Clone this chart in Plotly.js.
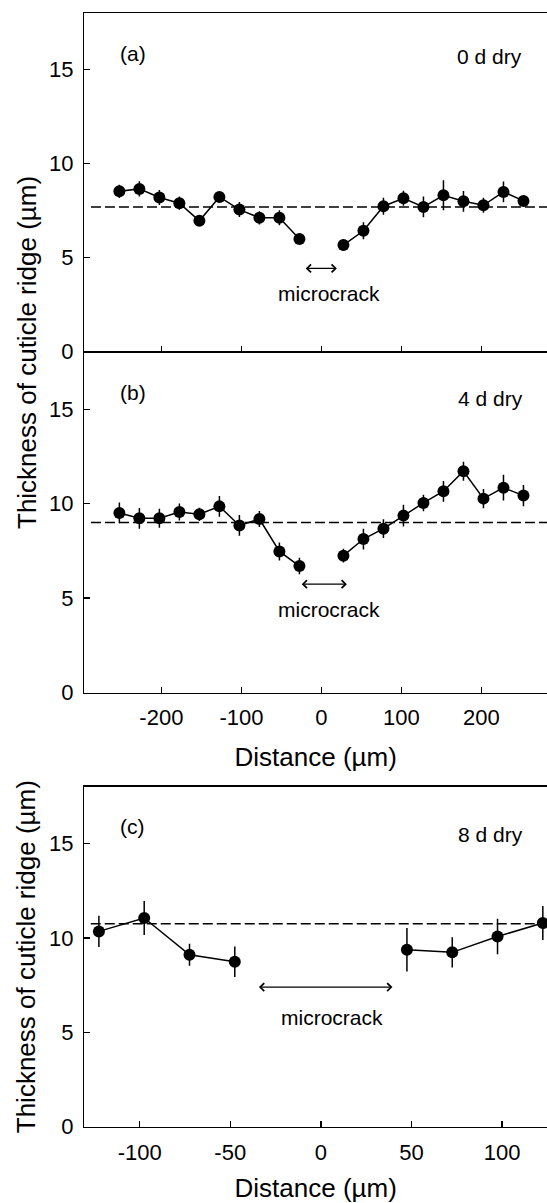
<!DOCTYPE html>
<html>
<head>
<meta charset="utf-8">
<script src="https://cdn.plot.ly/plotly-3.0.1.min.js"></script>
<style>html,body{margin:0;padding:0;background:#fff;overflow:hidden}#chart{width:547px;height:1203px}</style>
</head>
<body>
<div id="chart"></div>
<script>
// ---- Data ----
const xAB_left = [-252.5, -227.5, -202.5, -177.5, -152.5, -127.5, -102.5, -77.5, -52.5, -27.5];
const xAB_right = [27.5, 52.5, 77.5, 102.5, 127.5, 152.5, 177.5, 202.5, 227.5, 252.5];

const a_left = [8.53, 8.66, 8.2, 7.9, 6.96, 8.23, 7.56, 7.12, 7.12, 6.0];
const a_left_err = [0.35, 0.4, 0.4, 0.35, 0.2, 0.15, 0.4, 0.35, 0.4, 0.25];
const a_right = [5.67, 6.43, 7.74, 8.16, 7.7, 8.32, 8.0, 7.79, 8.5, 8.02];
const a_right_err = [0.3, 0.45, 0.45, 0.4, 0.55, 0.8, 0.55, 0.4, 0.55, 0.2];
const a_mean = 7.7;

const b_left = [9.51, 9.23, 9.23, 9.56, 9.44, 9.86, 8.85, 9.19, 7.47, 6.7];
const b_left_err = [0.55, 0.55, 0.5, 0.45, 0.35, 0.55, 0.55, 0.42, 0.48, 0.44];
const b_right = [7.25, 8.13, 8.68, 9.37, 10.04, 10.66, 11.72, 10.27, 10.85, 10.43];
const b_right_err = [0.37, 0.55, 0.5, 0.57, 0.44, 0.55, 0.5, 0.51, 0.68, 0.56];
const b_mean = 9.0;

const xC_left = [-122.5, -97.5, -72.5, -47.5];
const xC_right = [47.5, 72.5, 97.5, 122.5];
const c_left = [10.34, 11.05, 9.1, 8.73];
const c_left_err = [0.83, 0.9, 0.58, 0.81];
const c_right = [9.37, 9.23, 10.07, 10.78];
const c_right_err = [1.15, 0.8, 0.94, 0.9];
const c_mean = 10.75;

const panelLabels = ['(a)', '(b)', '(c)'];
const dryLabels = ['0 d dry', '4 d dry', '8 d dry'];
const yTicks = [0, 5, 10, 15];
const xTicksAB = [-200, -100, 0, 100, 200];
const xTickTextAB = ['-200', '-100', '0', '100', '200'];
const xTicksC = [-100, -50, 0, 50, 100];
const xTickTextC = ['-100', '-50', '0', '50', '100'];

// ---- Styling ----
const FONT = 'Liberation Sans, Arial, sans-serif';
const BLACK = '#000';

function seg(x, y, err, xa, ya) {
  return {
    type: 'scatter', mode: 'lines+markers', x: x, y: y, xaxis: xa, yaxis: ya,
    line: {color: BLACK, width: 1.5},
    marker: {color: BLACK, size: 12},
    error_y: {type: 'data', array: err, visible: true, color: BLACK, thickness: 1.5, width: 0},
    showlegend: false, hoverinfo: 'x+y'
  };
}

const traces = [
  seg(xAB_left, a_left, a_left_err, 'x', 'y'),
  seg(xAB_right, a_right, a_right_err, 'x', 'y'),
  seg(xAB_left, b_left, b_left_err, 'x2', 'y2'),
  seg(xAB_right, b_right, b_right_err, 'x2', 'y2'),
  seg(xC_left, c_left, c_left_err, 'x3', 'y3'),
  seg(xC_right, c_right, c_right_err, 'x3', 'y3')
];

const XD = [84.4 / 547, 1];
function xax(range, ticks, ticktext, labels, anchor, title, standoff) {
  const o = {
    domain: XD, range: range, anchor: anchor,
    showline: true, linecolor: BLACK, linewidth: 1.5, mirror: true,
    ticks: 'inside', ticklen: 6, tickwidth: 1.5, tickcolor: BLACK,
    tickmode: 'array', tickvals: ticks, ticktext: ticktext, showticklabels: labels,
    ticklabelstandoff: 5,
    showgrid: false, zeroline: false,
    tickfont: {family: FONT, size: 22, color: BLACK}
  };
  if (title) o.title = {text: title, font: {family: FONT, size: 26, color: BLACK}, standoff: standoff};
  return o;
}
function yax(dom, anchor, title) {
  const o = {
    domain: dom, range: [0, 18], anchor: anchor,
    showline: true, linecolor: BLACK, linewidth: 1.5,
    ticks: 'inside', ticklen: 6, tickwidth: 1.5, tickcolor: BLACK,
    tickmode: 'array', tickvals: yTicks,
    ticklabelstandoff: 5,
    showgrid: false, zeroline: false,
    tickfont: {family: FONT, size: 22, color: BLACK}
  };
  if (title) o.title = {text: title, font: {family: FONT, size: 26, color: BLACK}, standoff: 6};
  return o;
}
const H = 1203;
const rangeAB = [-296.2, 281.9];
const rangeC = [-130.5, 124.8];

function dashed(xr, yr, xmin, xmax, v) {
  return {type: 'line', xref: xr, yref: yr, x0: xmin, x1: xmax, y0: v, y1: v,
    line: {color: BLACK, width: 1.5, dash: '10px,4px'}};
}
function txt(xr, yr, x, y, t, size) {
  return {xref: xr, yref: yr, x: x, y: y, text: t, showarrow: false,
    font: {family: FONT, size: size, color: BLACK}, xanchor: 'center', yanchor: 'middle'};
}
function dblArrow(xr, yr, x0, x1, y) {
  return {xref: xr, yref: yr, axref: xr, ayref: yr, x: x1, y: y, ax: x0, ay: y, text: '',
    showarrow: true, arrowside: 'end+start', arrowhead: 4, arrowsize: 1.2, arrowwidth: 1.3, arrowcolor: BLACK,
    standoff: 0, startstandoff: 0};
}

const layout = {
  width: 547, height: 1203,
  margin: {l: 0, r: 0, t: 0, b: 0},
  paper_bgcolor: '#fff', plot_bgcolor: '#fff',
  showlegend: false,
  font: {family: FONT, color: BLACK},
  xaxis: xax(rangeAB, xTicksAB, xTickTextAB, false, 'y', null, 0),
  yaxis: yax([1 - 351.7 / H, 1 - 13.3 / H], 'x', null),
  xaxis2: xax(rangeAB, xTicksAB, xTickTextAB, true, 'y2', 'Distance (µm)', 18),
  yaxis2: yax([1 - 692.5 / H, 1 - 352.7 / H], 'x2', null),
  xaxis3: xax(rangeC, xTicksC, xTickTextC, true, 'y3', 'Distance (µm)', 15),
  yaxis3: yax([1 - 1126.7 / H, 1 - 786.7 / H], 'x3', 'Thickness of cuticle ridge (µm)'),
  shapes: [
    dashed('x', 'y', -288, 281.9, a_mean),
    dashed('x2', 'y2', -288, 281.9, b_mean),
    dashed('x3', 'y3', -127, 124.8, c_mean)
  ],
  annotations: [
    txt('x', 'y', -235, 15.85, panelLabels[0], 21),
    txt('x', 'y', 209.5, 15.7, dryLabels[0], 21),
    txt('x2', 'y2', -235, 15.88, panelLabels[1], 21),
    txt('x2', 'y2', 211.7, 15.56, dryLabels[1], 21),
    txt('x3', 'y3', -104, 15.9, panelLabels[2], 21),
    txt('x3', 'y3', 93.8, 15.47, dryLabels[2], 21),
    dblArrow('x', 'y', -21.5, 19.3, 4.43),
    txt('x', 'y', 9, 3.1, 'microcrack', 21),
    dblArrow('x2', 'y2', -26.5, 31.8, 5.74),
    txt('x2', 'y2', 9.4, 4.42, 'microcrack', 21),
    dblArrow('x3', 'y3', -35, 39.5, 7.39),
    txt('x3', 'y3', 6.2, 5.76, 'microcrack', 21),
    {xref: 'paper', yref: 'paper', x: 27 / 547, y: 1 - 353 / H, text: 'Thickness of cuticle ridge (µm)',
      textangle: -90, showarrow: false, xanchor: 'center', yanchor: 'middle',
      font: {family: FONT, size: 26, color: BLACK}}
  ]
};

Plotly.newPlot('chart', traces, layout, {staticPlot: true, displayModeBar: false});
</script>
</body>
</html>
